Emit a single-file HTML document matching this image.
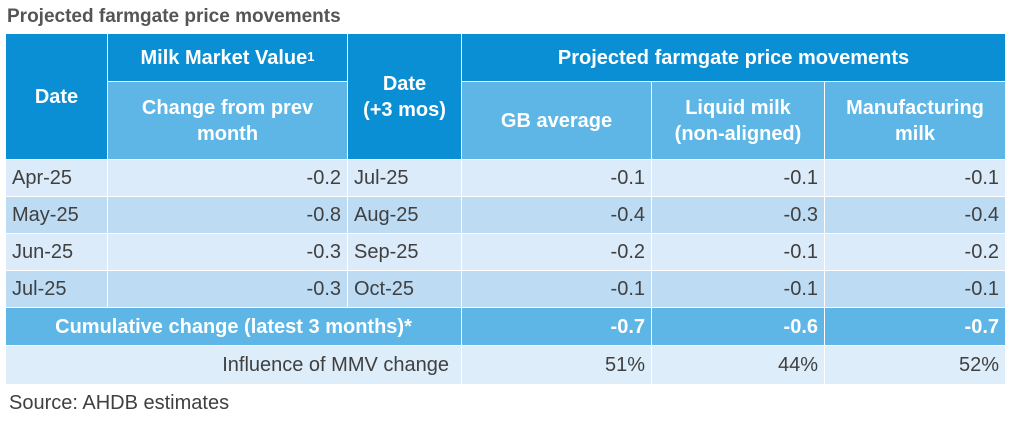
<!DOCTYPE html>
<html><head><meta charset="utf-8"><style>
body{margin:0;width:1011px;height:424px;background:#fff;font-family:"Liberation Sans",Arial,sans-serif;position:relative;overflow:hidden}
.c{position:absolute;box-sizing:border-box;display:flex;align-items:center;font-size:20px;color:#404040;border-right:1px solid #fff;border-bottom:1px solid #fff;line-height:1.3}
.h{color:#fff;font-weight:bold;justify-content:center;text-align:center}
.dk{background:#0a8fd4}.lt{background:#5db6e6}
.r1{background:#dcebf9}.r2{background:#bddcf4}.inf{background:#ddedfa}
.l{padding-left:6px}.r{justify-content:flex-end;padding-right:6px}
</style></head><body>
<div style="position:absolute;left:7px;top:6px;font-size:19px;font-weight:bold;color:#555">Projected farmgate price movements</div>
<div id="t"></div>
<div style="position:absolute;left:9px;top:392px;font-size:20px;color:#404040">Source: AHDB estimates</div>
<script>
const dates=["Apr-25","May-25","Jun-25","Jul-25"];
const mmv=["-0.2","-0.8","-0.3","-0.3"];
const dates3=["Jul-25","Aug-25","Sep-25","Oct-25"];
const gb=["-0.1","-0.4","-0.2","-0.1"];
const liquid=["-0.1","-0.3","-0.1","-0.1"];
const manuf=["-0.1","-0.4","-0.2","-0.1"];
const cumulative=["-0.7","-0.6","-0.7"];
const influence=["51%","44%","52%"];
const X=[6,108,348,462,652,825,1006];
const Y=[34,82,160,197,234,271,308,346,385];
const t=document.getElementById('t');
function cell(c0,c1,r0,r1,cls,html,name){
 const d=document.createElement('div');
 d.className='c '+cls;
 d.style.left=X[c0]+'px';d.style.width=(X[c1]-X[c0])+'px';
 d.style.top=Y[r0]+'px';d.style.height=(Y[r1]-Y[r0])+'px';
 d.innerHTML=html;
 
 
 t.appendChild(d);
}
cell(0,1,0,2,'h dk','Date','header-date');
cell(1,2,0,1,'h dk','Milk Market Value<sup style="font-size:13px">1</sup>','header-mmv');
cell(1,2,1,2,'h lt','Change from prev<br>month','header-change');
cell(2,3,0,2,'h dk','Date<br>(+3 mos)','header-date-3mos');
cell(3,6,0,1,'h dk','Projected farmgate price movements','header-projected');
cell(3,4,1,2,'h lt','GB average','header-gb-average');
cell(4,5,1,2,'h lt','Liquid milk<br>(non-aligned)','header-liquid-milk');
cell(5,6,1,2,'h lt','Manufacturing<br>milk','header-manufacturing-milk');
for(let i=0;i<dates.length;i++){
 const bg=i%2?'r2':'r1',r=2+i;
 cell(0,1,r,r+1,bg+' l',dates[i],'date-cell');
 cell(1,2,r,r+1,bg+' r',mmv[i],'mmv-cell');
 cell(2,3,r,r+1,bg+' l',dates3[i],'date-3mos-cell');
 cell(3,4,r,r+1,bg+' r',gb[i],'gb-cell');
 cell(4,5,r,r+1,bg+' r',liquid[i],'liquid-cell');
 cell(5,6,r,r+1,bg+' r',manuf[i],'manufacturing-cell');
}
cell(0,3,6,7,'h lt','Cumulative change (latest 3 months)*','cumulative-label');
for(let j=0;j<3;j++)cell(3+j,4+j,6,7,'h lt r',cumulative[j],'cumulative-value');
cell(0,3,7,8,'inf r','<span style="padding-right:6px">Influence of MMV change</span>','influence-label');
for(let j=0;j<3;j++)cell(3+j,4+j,7,8,'inf r',influence[j],'influence-value');
</script>
</body></html>
